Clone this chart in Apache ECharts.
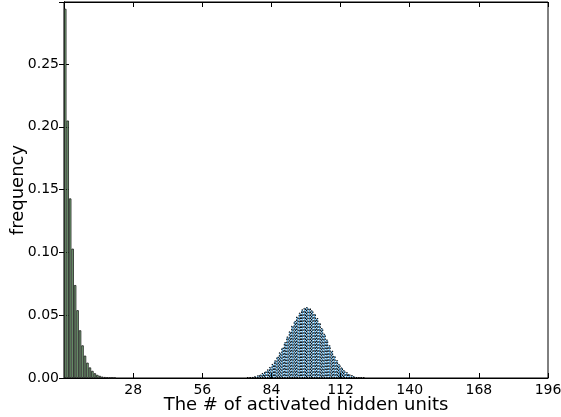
<!DOCTYPE html>
<html>
<head>
<meta charset="utf-8">
<script src="https://cdn.jsdelivr.net/npm/echarts@6/dist/echarts.min.js"></script>
<style>html,body{margin:0;padding:0;background:#fff;}#c{width:561px;height:417px;}</style>
</head>
<body>
<div id="c"></div>
<script>
// ---- data ----
var binCount = 196;               // bins 0..195, width 1
var xTicks = [28, 56, 84, 112, 140, 168, 196];
var yTicks = ['0.00', '0.05', '0.10', '0.15', '0.20', '0.25'];
var greenStart = 0;
var greenValues = [0.294, 0.205, 0.143, 0.103, 0.074, 0.054, 0.038, 0.026, 0.0178, 0.0122,
  0.0084, 0.0057, 0.0038, 0.0025, 0.0017, 0.0011, 0.0008, 0.0005, 0.0003, 0.0002, 0.0001];
var blueStart = 74;
var blueValues = [0.0004, 0.0006, 0.0010, 0.0015, 0.0021, 0.0029, 0.0040, 0.0053, 0.0068, 0.0088,
  0.0112, 0.0140, 0.0171, 0.0205, 0.0243, 0.0285, 0.0330, 0.0372, 0.0417, 0.0455,
  0.0490, 0.0520, 0.0546, 0.0560, 0.0565, 0.0556, 0.0540, 0.0512, 0.0478, 0.0440,
  0.0398, 0.0352, 0.0306, 0.0260, 0.0218, 0.0178, 0.0142, 0.0111, 0.0085, 0.0063,
  0.0046, 0.0033, 0.0023, 0.0015, 0.0010, 0.0006, 0.0004, 0.0002];

// ---- build full-length series ----
var cats = [], greenData = [], blueData = [];
for (var i = 0; i < binCount; i++) {
  cats.push(String(i));
  var g = i - greenStart, b = i - blueStart;
  greenData.push(g >= 0 && g < greenValues.length ? greenValues[g] : '-');
  blueData.push(b >= 0 && b < blueValues.length ? blueValues[b] : '-');
}

var FONT = 'DejaVu Sans';
var chart = echarts.init(document.getElementById('c'), null, {renderer: 'canvas'});
var tickStyle = {show: true, inside: true, length: 5, lineStyle: {color: '#000', width: 1}};
chart.setOption({
  animation: false,
  backgroundColor: '#fff',
  grid: {left: 64, right: 13, top: 2, bottom: 39, show: true, borderColor: '#000', borderWidth: 1,
         containLabel: false, outerBoundsMode: 'none'},
  xAxis: [
    {
      type: 'value', min: 0, max: 196, interval: 28, position: 'bottom',
      name: 'The # of activated hidden units', nameLocation: 'middle', nameGap: 18,
      nameMoveOverlap: false,
      nameTextStyle: {fontFamily: FONT, fontSize: 18, color: '#000'},
      axisLine: {show: true, lineStyle: {color: '#000', width: 1}},
      axisTick: tickStyle,
      splitLine: {show: false},
      axisLabel: {
        fontFamily: FONT, fontSize: 14, color: '#000', margin: 5,
        formatter: function (v) { return xTicks.indexOf(v) >= 0 ? String(v) : ''; }
      }
    },
    {
      type: 'category', data: cats, show: false, boundaryGap: true
    },
    {
      type: 'value', min: 0, max: 196, interval: 28, position: 'top',
      axisLine: {show: true, lineStyle: {color: '#000', width: 1}},
      axisTick: tickStyle, axisLabel: {show: false}, splitLine: {show: false}
    }
  ],
  yAxis: [
    {
      type: 'value', min: 0, max: 0.2994, interval: 0.05, position: 'left',
      name: 'frequency', nameLocation: 'middle', nameGap: 37,
      nameMoveOverlap: false,
      nameTextStyle: {fontFamily: FONT, fontSize: 18, color: '#000'},
      axisLine: {show: true, lineStyle: {color: '#000', width: 1}},
      axisTick: tickStyle,
      splitLine: {show: false},
      axisLabel: {
        fontFamily: FONT, fontSize: 14, color: '#000', margin: 5,
        formatter: function (v) {
          var s = v.toFixed(2);
          return yTicks.indexOf(s) >= 0 && Math.abs(v - parseFloat(s)) < 1e-9 ? s : '';
        }
      }
    },
    {
      type: 'value', min: 0, max: 0.2994, interval: 0.05, position: 'right',
      axisLine: {show: true, lineStyle: {color: '#000', width: 1}},
      axisTick: tickStyle, axisLabel: {show: false}, splitLine: {show: false}
    }
  ],
  series: [
    {
      type: 'bar', xAxisIndex: 1, yAxisIndex: 0, data: greenData,
      barCategoryGap: '0%', barGap: '-100%',
      itemStyle: {color: '#80b280', borderColor: '#1a1a1a', borderWidth: 0.8}
    },
    {
      type: 'bar', xAxisIndex: 1, yAxisIndex: 0, data: blueData,
      barCategoryGap: '0%', barGap: '-100%',
      itemStyle: {color: '#66b8ee', borderColor: '#000', borderWidth: 1, borderType: [1.5, 1.5]}
    }
  ]
});
</script>
</body>
</html>
